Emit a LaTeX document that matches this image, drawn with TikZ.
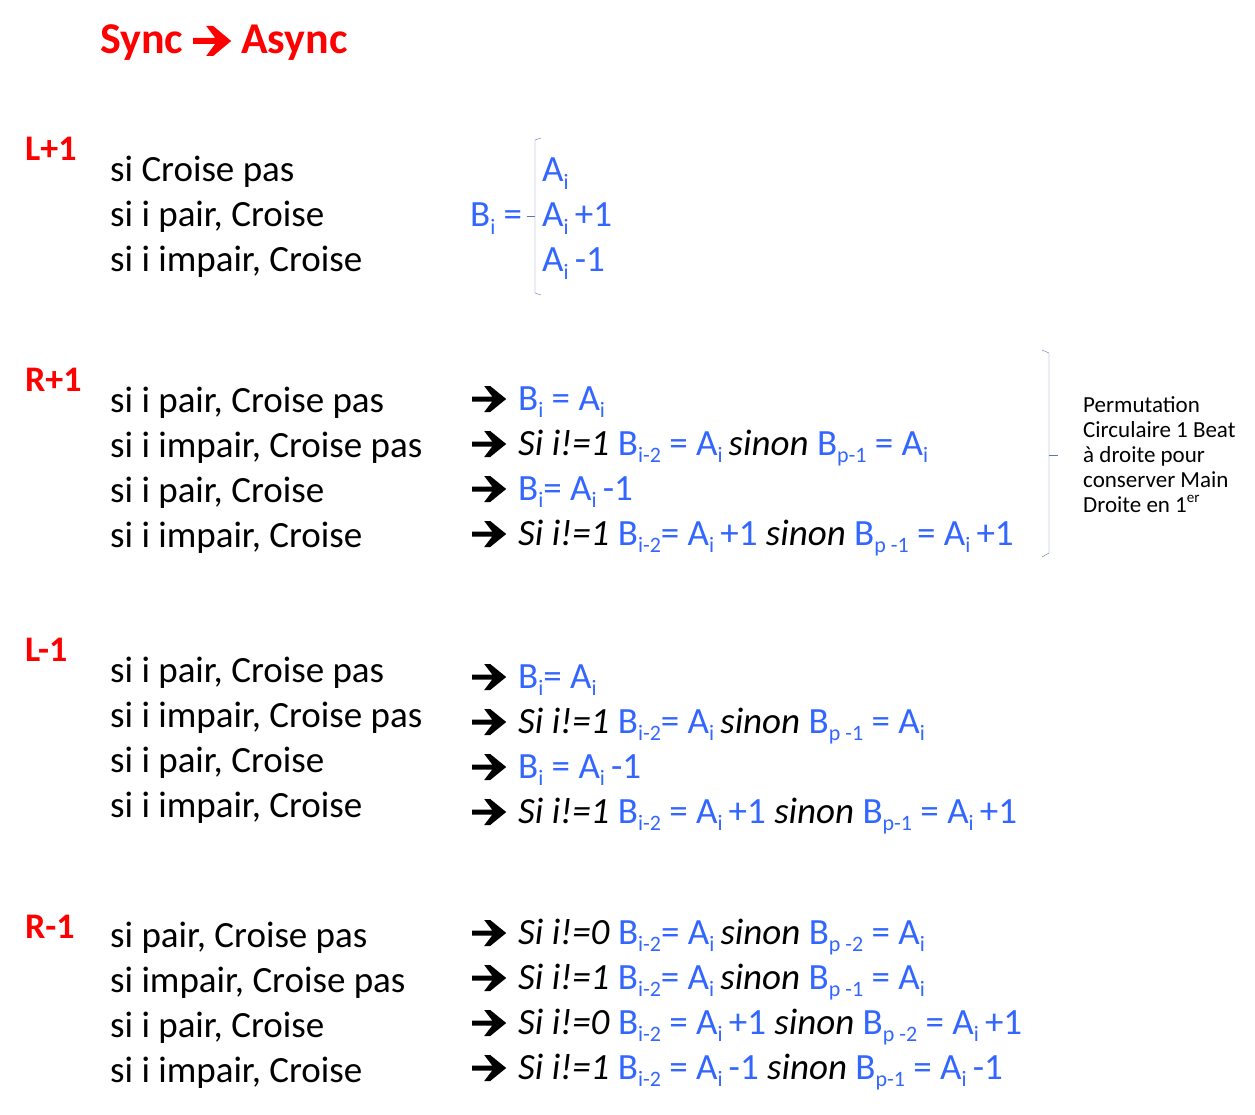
\documentclass[tikz,border=0pt]{standalone}
\usepackage{fontspec}
\setmainfont{Carlito}
\newfontfamily\arr{DejaVu Sans}
\definecolor{blu}{RGB}{51,102,255}
\newcommand\sbx[1]{\raisebox{-0.4ex}{\fontsize{22}{22}\selectfont #1}}
\newcommand\supx[1]{\raisebox{0.9ex}{\fontsize{15}{15}\selectfont #1}}
\newcommand\Bx[1]{\textcolor{blu}{B\sbx{#1}}}
\newcommand\Ax{\textcolor{blu}{A\sbx{i}}}
\newcommand\bl[1]{\textcolor{blu}{#1}}
\newcommand\ar{\makebox[46pt][l]{\tikz[baseline=-11pt,x=1pt,y=1pt]{\fill[black] (0,-2.5) -- (20,-2.5) -- (12,-13) -- (18,-13) -- (34,0) -- (18,13) -- (12,13) -- (20,2.5) -- (0,2.5) -- cycle;}}}
\begin{document}
\begin{tikzpicture}[x=1pt,y=-1pt,
  txt/.style={anchor=base west,inner sep=0pt,font=\fontsize{37}{40}\selectfont},
  lab/.style={anchor=base west,inner sep=0pt,text=red,font=\bfseries\fontsize{36}{40}\selectfont},
  small/.style={anchor=base west,inner sep=0pt,font=\fontsize{23}{26}\selectfont}]
\useasboundingbox (0,0) rectangle (1255,1115);
\node[anchor=base west,inner sep=0pt,text=red,font=\bfseries\fontsize{44}{48}\selectfont] (title) at (100,54) {Sync \tikz[baseline=-13pt,x=1pt,y=1pt]{\fill[red] (0,-3) -- (22,-3) -- (13,-15) -- (20,-15) -- (38,0) -- (20,15) -- (13,15) -- (22,3) -- (0,3) -- cycle;} Async};
% L+1
\node[lab] (l1) at (25,161) {L+1};
\node[txt] (a1) at (110,182) {si Croise pas};
\node[txt] (a2) at (110,227) {si i pair, Croise};
\node[txt] (a3) at (110,272) {si i impair, Croise};
\node[txt] (b0) at (470,227) {\Bx{i} \bl{=}};
\node[txt] (b1) at (542,182) {\Ax};
\node[txt] (b2) at (542,227) {\Ax\,\bl{+1}};
\node[txt] (b3) at (542,272) {\Ax\,\bl{-1}};
\draw[blu!40!gray,thin] (541,138) -- (535,140) -- (535,293) -- (541,295);
\draw[blu!40!gray,thin] (535,216) -- (527,216);
% R+1
\node[lab] (r1) at (25,391) {R+1};
\node[txt] (c1) at (110,412) {si i pair, Croise pas};
\node[txt] (c2) at (110,457) {si i impair, Croise pas};
\node[txt] (c3) at (110,502) {si i pair, Croise};
\node[txt] (c4) at (110,547) {si i impair, Croise};
\node[txt] (d1) at (472,410) {\ar\Bx{i} \bl{=} \Ax};
\node[txt] (d2) at (472,455) {\ar\textit{Si i!=1} \Bx{i-2} \bl{=} \Ax\,\textit{sinon} \Bx{p-1} \bl{=} \Ax};
\node[txt] (d3) at (472,500) {\ar\Bx{i}\bl{= }\Ax\,\bl{-1}};
\node[txt] (d4) at (472,545) {\ar\textit{Si i!=1} \Bx{i-2}\bl{ = }\Ax\,\bl{+1} \textit{sinon} \Bx{p -1} \bl{=} \Ax\,\bl{+1}};
\draw[blu!40!gray,thin] (1042,350) -- (1049,353) -- (1049,553) -- (1042,557);
\draw[blu!40!gray,thin] (1049,455) -- (1058,455);
\node[small] (p1) at (1083,412) {Permutation};
\node[small] (p2) at (1083,437) {Circulaire 1 Beat};
\node[small] (p3) at (1083,462) {à droite pour};
\node[small] (p4) at (1083,487) {conserver Main};
\node[small] (p5) at (1083,512) {Droite en 1\supx{er}};
% L-1
\node[lab] (m1) at (25,661) {L-1};
\node[txt] (e1) at (110,682) {si i pair, Croise pas};
\node[txt] (e2) at (110,727) {si i impair, Croise pas};
\node[txt] (e3) at (110,772) {si i pair, Croise};
\node[txt] (e4) at (110,817) {si i impair, Croise};
\node[txt] (f1) at (472,688) {\ar\Bx{i}\bl{ = }\Ax};
\node[txt] (f2) at (472,733) {\ar\textit{Si i!=1} \Bx{i-2}\bl{ = }\Ax\,\textit{sinon} \Bx{p -1} \bl{=} \Ax};
\node[txt] (f3) at (472,778) {\ar\Bx{i} \bl{=} \Ax\,\bl{-1}};
\node[txt] (f4) at (472,823) {\ar\textit{Si i!=1} \Bx{i-2} \bl{=} \Ax\,\bl{+1} \textit{sinon} \Bx{p-1} \bl{=} \Ax\,\bl{+1}};
% R-1
\node[lab] (n1) at (25,938) {R-1};
\node[txt] (g1) at (110,947) {si pair, Croise pas};
\node[txt] (g2) at (110,992) {si impair, Croise pas};
\node[txt] (g3) at (110,1037) {si i pair, Croise};
\node[txt] (g4) at (110,1082) {si i impair, Croise};
\node[txt] (h1) at (472,944) {\ar\textit{Si i!=0} \Bx{i-2}\bl{= }\Ax\,\textit{sinon} \Bx{p -2} \bl{=} \Ax};
\node[txt] (h2) at (472,989) {\ar\textit{Si i!=1} \Bx{i-2}\bl{= }\Ax\,\textit{sinon} \Bx{p -1} \bl{=} \Ax};
\node[txt] (h3) at (472,1034) {\ar\textit{Si i!=0} \Bx{i-2} \bl{=} \Ax\,\bl{+1} \textit{sinon} \Bx{p -2} \bl{=} \Ax\,\bl{+1}};
\node[txt] (h4) at (472,1079) {\ar\textit{Si i!=1} \Bx{i-2} \bl{=} \Ax\,\bl{-1} \textit{sinon} \Bx{p-1} \bl{=} \Ax\,\bl{-1}};
\end{tikzpicture}
\end{document}
